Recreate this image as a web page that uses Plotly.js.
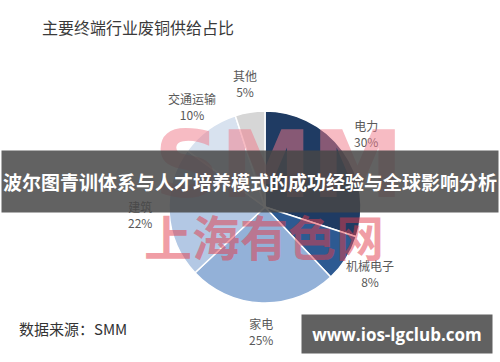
<!DOCTYPE html>
<html><head><meta charset="utf-8">
<script src="https://cdn.plot.ly/plotly-3.0.1.min.js"></script>
<style>html,body{margin:0;padding:0;background:#fff;}#chart{width:500px;height:362px;}</style>
</head><body><div id="chart"></div>
<script>
const categories = ['电力', '机械电子', '家电', '建筑', '交通运输', '其他'];
const shares = [30, 8, 25, 22, 10, 5];
const sliceColors = ['#1f3b63', '#2d5a92', '#93b1d8', '#b3c8e4', '#d8e2ef', '#d6d6d6'];
const chartTitle = '主要终端行业废铜供给占比';
const sourceText = '数据来源：SMM';
const bannerText = '波尔图青训体系与人才培养模式的成功经验与全球影响分析';
const urlText = 'www.ios-lgclub.com';

const W = 500, H = 362;
const cx = 265, cy = 207, R = 96;
const dom = {x: [(cx - R) / W, (cx + R) / W], y: [(H - cy - R) / H, (H - cy + R) / H]};
const CJK = '"Noto Sans CJK SC", "Noto Sans", sans-serif';

// label positions computed from the data (mid-angle of each slice)
const total = shares.reduce((a, b) => a + b, 0);
let cum = 0;
const labelAnn = [];
const rLab = 1.3 * R;
shares.forEach((v, i) => {
  const mid = (cum + v / 2) / total * 2 * Math.PI;
  cum += v;
  const px = cx + rLab * Math.sin(mid);
  const py = cy - rLab * Math.cos(mid);
  labelAnn.push({
    x: px / W, y: 1 - py / H, xref: 'paper', yref: 'paper',
    text: categories[i] + '<br>' + v + '%', showarrow: false,
    font: {family: CJK, size: 12, color: '#595959'}, align: 'center',
    xanchor: 'center', yanchor: 'middle'
  });
});

const data = [{
  type: 'pie', labels: categories, values: shares, sort: false,
  direction: 'clockwise', rotation: 0, domain: dom,
  marker: {colors: sliceColors, line: {color: '#ffffff', width: 1.5}},
  textinfo: 'none', hoverinfo: 'label+percent', showlegend: false
}];

const annotations = [
  {x: 40 / W, y: 1 - 27 / H, xref: 'paper', yref: 'paper', xanchor: 'left', yanchor: 'middle',
   text: chartTitle, showarrow: false, font: {family: CJK, size: 16, color: '#3a3a3a'}},
  ...labelAnn,
  // watermark
  {x: 278 / W, y: 1 - 165 / H, xref: 'paper', yref: 'paper', xanchor: 'center', yanchor: 'middle',
   text: '<b>SMM</b>', showarrow: false,
   font: {family: '"DejaVu Sans", sans-serif', size: 92, color: 'rgba(240,120,135,0.5)'}},
  {x: 264 / W, y: 1 - 235 / H, xref: 'paper', yref: 'paper', xanchor: 'center', yanchor: 'middle',
   text: '<b>上海有色网</b>', showarrow: false,
   font: {family: CJK, size: 48, color: 'rgba(225,60,75,0.5)'}},
  // banner
  {x: 250 / W, y: 1 - 181.5 / H, xref: 'paper', yref: 'paper', xanchor: 'center', yanchor: 'middle',
   text: '<b>' + bannerText + '</b>', showarrow: false, width: 494, height: 59,
   bgcolor: 'rgba(70,70,70,0.85)', borderpad: 1,
   font: {family: CJK, size: 19, color: '#ffffff'}},
  {x: 17 / W, y: 1 - 328 / H, xref: 'paper', yref: 'paper', xanchor: 'left', yanchor: 'middle',
   text: sourceText, showarrow: false, font: {family: CJK, size: 15, color: '#333333'}},
  {x: 397 / W, y: 1 - 334 / H, xref: 'paper', yref: 'paper', xanchor: 'center', yanchor: 'middle',
   text: '<b>' + urlText + '</b>', showarrow: false, width: 188, height: 36,
   bgcolor: '#616161', borderpad: 1,
   font: {family: '"Open Sans", "Noto Sans", sans-serif', size: 17, color: '#ffffff'}}
];

const layout = {
  width: W, height: H, margin: {l: 0, r: 0, t: 0, b: 0},
  paper_bgcolor: '#ffffff', plot_bgcolor: '#ffffff',
  showlegend: false, annotations: annotations
};
Plotly.newPlot('chart', data, layout, {displayModeBar: false, staticPlot: true});
</script></body></html>
